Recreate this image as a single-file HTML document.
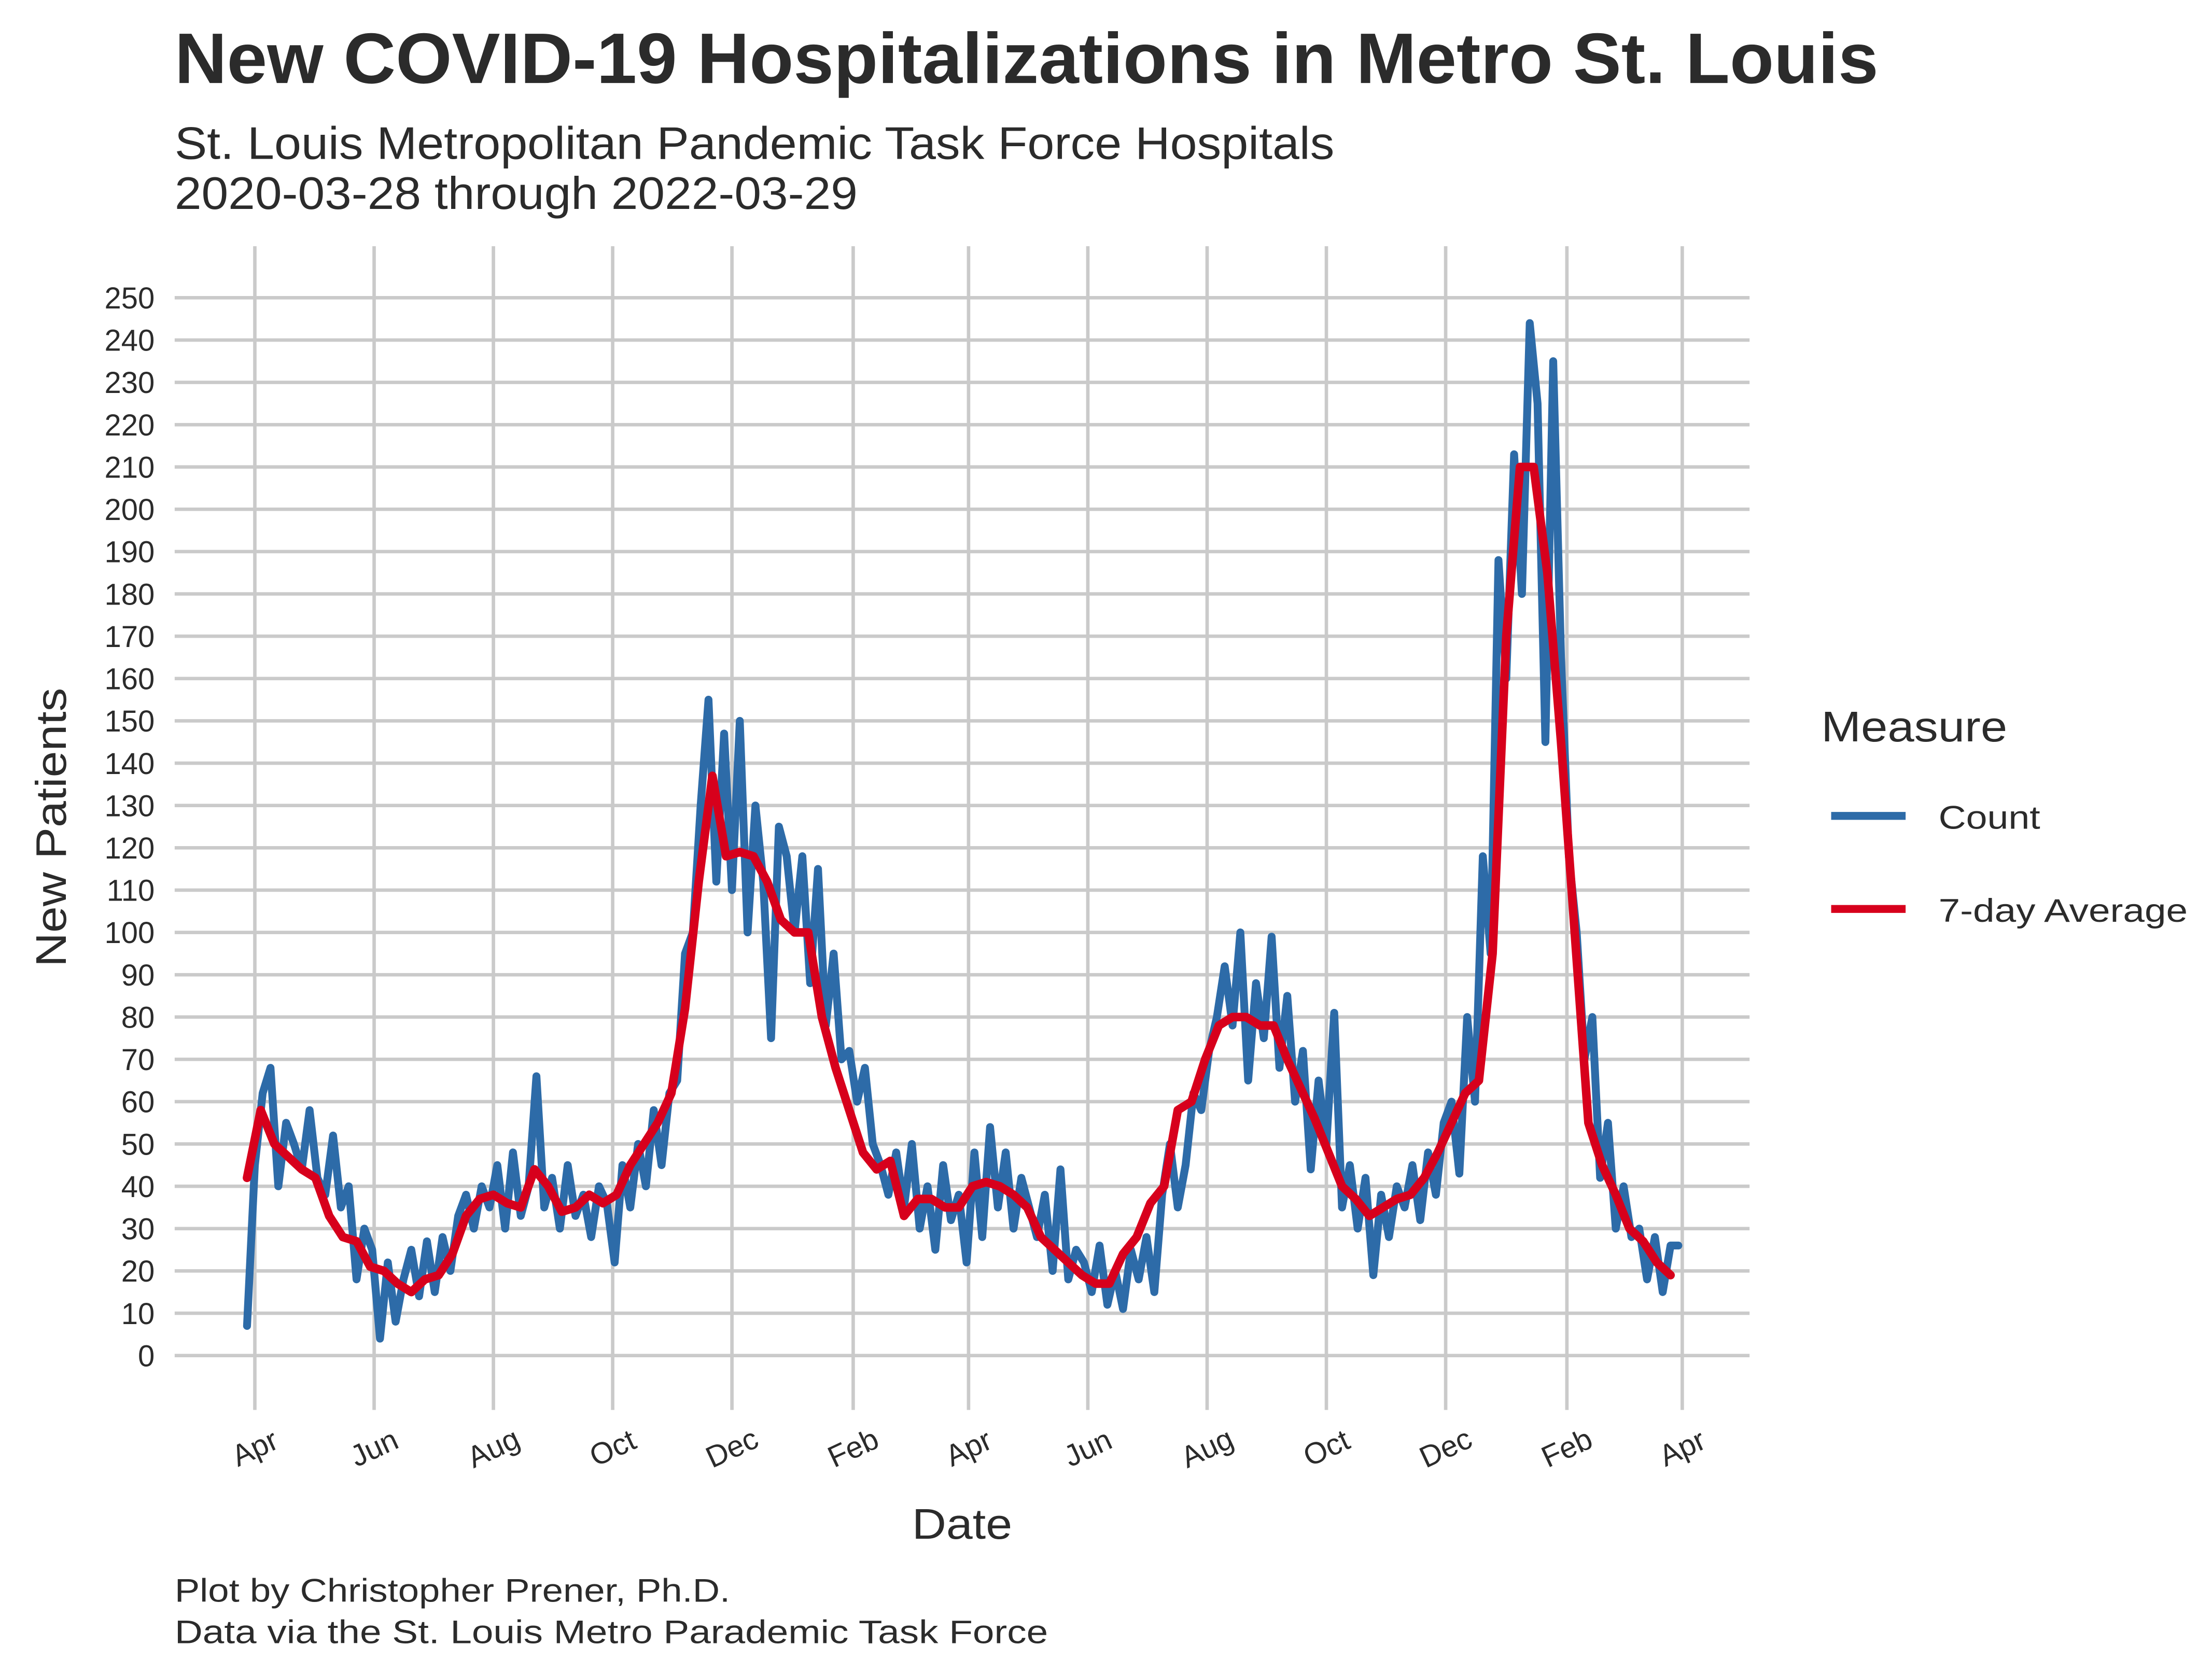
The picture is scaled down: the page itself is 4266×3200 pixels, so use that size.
<!DOCTYPE html>
<html><head><meta charset="utf-8"><style>
html,body{margin:0;padding:0;background:#fff;}
svg{display:block;font-family:"Liberation Sans",sans-serif;}
</style></head><body>
<svg id="chart" width="4266" height="3200" viewBox="0 0 1545 1159" preserveAspectRatio="none" xmlns="http://www.w3.org/2000/svg">
<text x="122" y="58" font-size="50" font-weight="bold" fill="#2b2b2b" textLength="1190" lengthAdjust="spacingAndGlyphs">New COVID-19 Hospitalizations in Metro St. Louis</text>
<text x="122" y="111" font-size="32" fill="#2b2b2b" textLength="810" lengthAdjust="spacingAndGlyphs">St. Louis Metropolitan Pandemic Task Force Hospitals</text>
<text x="122" y="146" font-size="32" fill="#2b2b2b" textLength="477" lengthAdjust="spacingAndGlyphs">2020-03-28 through 2022-03-29</text>
<g id="grid"></g>
<g id="yticks"></g>
<g id="xticks"></g>
<g id="series"></g>
<text x="672" y="1075" font-size="30" text-anchor="middle" fill="#2b2b2b" textLength="70" lengthAdjust="spacingAndGlyphs">Date</text>
<text transform="translate(46,578) rotate(-90)" font-size="30" text-anchor="middle" fill="#2b2b2b" textLength="195" lengthAdjust="spacingAndGlyphs">New Patients</text>
<g>
<text x="1272" y="518" font-size="30" fill="#2b2b2b" textLength="130" lengthAdjust="spacingAndGlyphs">Measure</text>
<line x1="1279" y1="570" x2="1331" y2="570" stroke="#2d6ba8" stroke-width="5.5"/>
<text x="1354" y="579" font-size="23" fill="#2b2b2b" textLength="71" lengthAdjust="spacingAndGlyphs">Count</text>
<line x1="1279" y1="635" x2="1331" y2="635" stroke="#d7001c" stroke-width="5.5"/>
<text x="1354" y="644" font-size="23" fill="#2b2b2b" textLength="174" lengthAdjust="spacingAndGlyphs">7-day Average</text>
</g>
<text x="122" y="1119" font-size="23" fill="#2b2b2b" textLength="388" lengthAdjust="spacingAndGlyphs">Plot by Christopher Prener, Ph.D.</text>
<text x="122" y="1148" font-size="23" fill="#2b2b2b" textLength="610" lengthAdjust="spacingAndGlyphs">Data via the St. Louis Metro Parademic Task Force</text>
</svg>
<script>
const startDate = '2020-03-28';
const countStepDays = 4;
const avgStepDays = 7;
const counts = [7,45,62,68,40,55,50,44,58,
42,38,52,35,40,18,30,25,
4,22,8,18,25,14,27,
15,28,20,33,38,30,40,35,
45,30,48,33,40,66,35,42,
30,45,33,38,28,40,36,
22,45,35,50,40,58,45,62,
65,95,100,130,155,112,147,110,
150,100,130,112,75,125,118,
100,118,88,115,78,95,70,72,
60,68,50,45,38,48,35,
50,30,40,25,45,32,38,22,
48,28,54,35,48,30,42,
35,28,38,20,44,18,25,22,
15,26,12,20,11,25,18,
28,15,38,50,35,45,62,58,
72,80,92,78,100,65,88,75,
99,68,85,60,72,44,65,
50,81,35,45,30,42,19,38,
28,40,35,45,32,48,38,55,
60,43,80,60,118,95,188,160,
213,180,244,225,145,235,165,
118,100,70,80,42,55,30,
40,28,30,18,28,15,26,26];
const averages = [42,58,50,47,44,
42,33,28,27,21,
20,17,15,18,
19,24,33,37,
38,36,35,44,40,
34,35,38,36,
38,45,50,55,
62,82,112,137,118,119,118,112,103,100,100,80,68,58,
48,44,46,33,37,37,35,35,40,41,40,38,35,
28,25,22,19,17,17,
24,28,36,40,58,60,70,78,
80,80,78,78,70,63,
56,48,40,37,33,35,37,38,42,48,55,
62,65,95,170,210,210,185,145,100,55,45,38,30,27,22,19];
const yTicks = [0,10,20,30,40,50,60,70,80,90,100,110,120,130,140,150,160,170,180,190,200,210,220,230,240,250];
const xTickDates = ['2020-04-01','2020-06-01','2020-08-01','2020-10-01','2020-12-01','2021-02-01','2021-04-01','2021-06-01','2021-08-01','2021-10-01','2021-12-01','2022-02-01','2022-04-01'];
const xTickLabels = ['Apr','Jun','Aug','Oct','Dec','Feb','Apr','Jun','Aug','Oct','Dec','Feb','Apr'];

const NS='http://www.w3.org/2000/svg';
const DAY=86400000;
const t0=Date.parse('2020-04-01T00:00:00Z'), t1=Date.parse('2022-04-01T00:00:00Z');
const start=Date.parse(startDate+'T00:00:00Z');
function xScale(ms){return 178+(ms-t0)/(t1-t0)*(1175-178);}
function yScale(v){return 947-(v/250)*(947-208);}
function mk(tag,attrs,parent){const e=document.createElementNS(NS,tag);for(const k in attrs)e.setAttribute(k,attrs[k]);parent.appendChild(e);return e;}
const grid=document.getElementById('grid');
const yt=document.getElementById('yticks');
const xt=document.getElementById('xticks');
const ser=document.getElementById('series');
yTicks.forEach(v=>{
  const l=mk('line',{x1:122,x2:1222,y1:yScale(v),y2:yScale(v),stroke:'#cacaca','stroke-width':2.4},grid);
  
  
  const t=mk('text',{x:108,y:yScale(v)+7.5,'font-size':21,'text-anchor':'end',fill:'#2b2b2b'},yt);
  
  
  t.textContent=v;
});
xTickDates.forEach((d,i)=>{
  const x=xScale(Date.parse(d+'T00:00:00Z'));
  const l=mk('line',{x1:x,x2:x,y1:172,y2:985,stroke:'#cacaca','stroke-width':2.4},grid);
  
  
  const t=mk('text',{transform:'translate('+(x+3)+',1018) rotate(-25)','font-size':21,'text-anchor':'middle',fill:'#2b2b2b'},xt);
  
  
  t.textContent=xTickLabels[i];
});
function pathFor(vals,step){
  return vals.map((v,i)=>(i?'L':'M')+xScale(start+i*step*DAY).toFixed(2)+' '+yScale(v).toFixed(2)).join(' ');
}
const pc=mk('path',{d:pathFor(counts,countStepDays),fill:'none',stroke:'#2d6ba8','stroke-width':5.5,'stroke-linejoin':'round','stroke-linecap':'round'},ser);


const pa=mk('path',{d:pathFor(averages,avgStepDays),fill:'none',stroke:'#d7001c','stroke-width':6,'stroke-linejoin':'round','stroke-linecap':'round'},ser);


</script>
</body></html>
